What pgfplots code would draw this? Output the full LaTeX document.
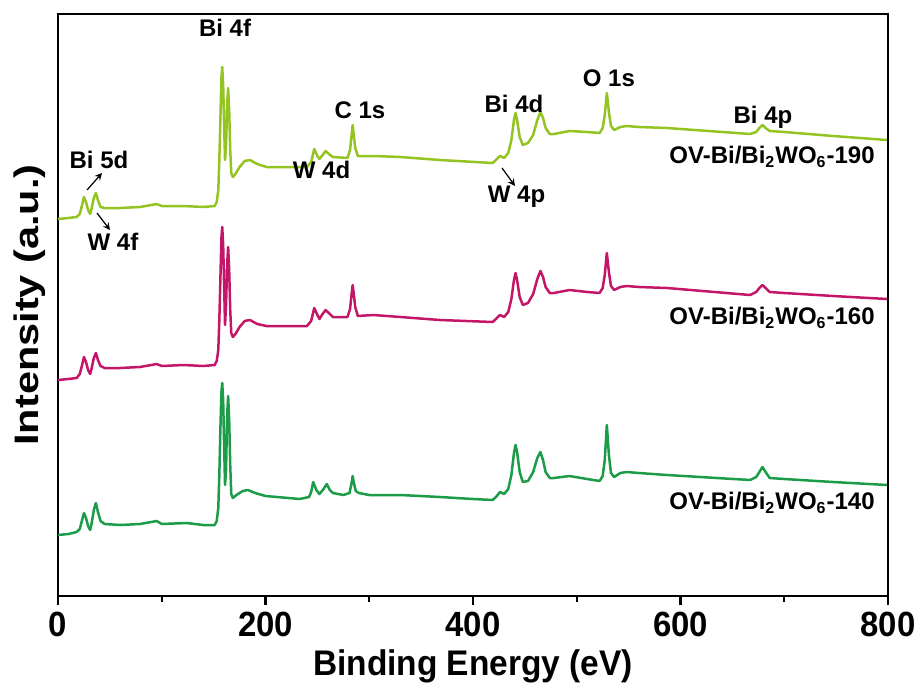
\documentclass[border=0pt]{standalone}
\usepackage{fontspec}
\usepackage{pgfplots}
\pgfplotsset{compat=1.18}
\setmainfont{Liberation Sans}
\newfontfamily\tickfont{Liberation Sans}[FakeStretch=0.94]
\newfontfamily\ylabfont{Liberation Sans}[FakeStretch=1.22]
\definecolor{cLime}{RGB}{148,196,34}
\definecolor{cMag}{RGB}{196,22,104}
\definecolor{cGrn}{RGB}{28,156,72}
\begin{document}
\begin{tikzpicture}
\begin{axis}[
  scale only axis, width=415pt, height=291pt,
  at={(0,0)}, anchor=south west,
  xmin=0, xmax=800, ymin=4, ymax=586,
  xtick={0,200,400,600,800}, minor xtick={100,300,500,700},
  xtick pos=bottom, ytick=\empty,
  tick align=outside,
  major tick length=4.5pt, minor tick length=3pt,
  every tick/.style={black, line width=1.2pt},
  axis line style={line width=1.4pt},
  /pgf/number format/assume math mode=true,
  ticklabel style={font=\tickfont\bfseries\fontsize{17.5}{18}\selectfont},
  xlabel={Binding Energy (eV)},
  xlabel style={font=\tickfont\bfseries\fontsize{17.8}{18}\selectfont, yshift=0.5pt},
  ylabel={Intensity (a.u.)},
  ylabel style={font=\ylabfont\bfseries\fontsize{17}{18}\selectfont, yshift=-2pt},
  clip=false,
  every axis plot/.append style={line width=1.25pt, line join=round},
]
\addplot[cGrn] coordinates {
(0,65)(10,66)(18,68)(21,71)(23,79)(25,87)(27,82)(29,74)(31,70)(32.5,77)(34.5,90)(36.5,97)(38.5,88)(41,79)(45,76)(60,75)(79,76)(90,78)(95,79)(100,76)(124,77)(140,75)(151,75)(153,79)(154.5,92)(155.5,125)(156.5,170)(157.5,208)(158.3,217)(159.2,200)(160,160)(161,115)(162,130)(163,185)(164,204)(165,180)(166,135)(167,106)(168.5,102)(172,105)(178,109)(183,110)(190,107)(200,104)(233,101)(242,103)(244,108)(246,118)(249,110)(252,106)(256,111)(259,116)(262,110)(265,107)(275,105)(281,107)(283,117)(284,124)(285,118)(287,109)(290,107)(300,105)(330,105)(368,103)(400,101)(419,100)(423,104)(426,108)(430,106)(434,111)(437,125)(439.5,147)(441,155)(442.5,148)(445,128)(448,118)(453,119)(458,128)(462,142)(465,148)(467.5,140)(470,128)(474,122)(478,122)(493,124)(510,121)(522,119)(525,124)(527,140)(529,175)(531,145)(533,127)(536,123)(542,127)(548,128)(560,127)(587,125)(667,120)(673,123)(676,128)(679,133)(682,128)(686,122)(700,121)(747,118)(799,115)
};
\addplot[cMag] coordinates {
(0,220)(10,221)(18,222)(21,226)(23,234)(25,243)(27,238)(29,230)(31,226)(32.5,232)(34.5,242)(36.5,247)(38.5,240)(41,234)(45,232)(60,232)(79,233)(90,235)(95,236)(100,234)(121,235)(140,234)(151,235)(153,239)(154.5,250)(155.5,280)(156.5,320)(157.5,362)(158.3,373)(159.2,355)(160,320)(161,275)(162,295)(163,335)(164,353)(165,330)(166,290)(167,267)(168.5,263)(171,266)(175,273)(180,279)(185,280)(192,276)(201,274)(240,274)(244,279)(247,292)(250,285)(252,281)(255,286)(258,290)(261,287)(265,283)(279,283)(281.5,291)(283,306)(284,315)(285,307)(286.5,293)(289,284)(304,285)(330,283)(368,280)(419,278)(423,282)(426,285)(430,283)(434,288)(437,301)(439.5,320)(441,327)(442.5,320)(445,303)(448,295)(453,297)(458,306)(462,321)(465,329)(467.5,323)(470,313)(474,307)(478,307)(493,310)(510,308)(522,307)(525,312)(527,325)(529,347)(531,328)(533,314)(536,310)(542,313)(548,314)(560,313)(587,312)(667,305)(673,308)(676,312)(679,315)(682,312)(686,308)(700,307)(747,304)(799,301)
};
\addplot[cLime] coordinates {
(0,381)(10,382)(18,383)(21,386)(23,394)(25,403)(27,398)(29,390)(31,386)(32.5,392)(34.5,402)(36.5,407)(38.5,400)(41,393)(45,392)(60,392)(79,393)(90,395)(95,396)(100,394)(121,394)(140,393)(151,394)(153,398)(154.5,410)(155.5,440)(156.5,480)(157.5,522)(158.3,533)(159.2,515)(160,480)(161,440)(162,455)(163,495)(164,512)(165,490)(166,450)(167,427)(168.5,423)(171,426)(175,433)(180,439)(185,440)(192,436)(201,433)(240,433)(244,438)(247,451)(250,444)(252,441)(255,445)(258,449)(261,446)(265,443)(279,442)(281.5,450)(283,465)(284,475)(285,466)(286.5,452)(289,444)(304,444)(330,443)(368,440)(419,437)(423,441)(426,444)(430,442)(434,447)(437,460)(439.5,480)(441,487)(442.5,480)(445,463)(448,455)(453,457)(458,465)(462,480)(465,488)(467.5,482)(470,472)(474,466)(478,466)(493,469)(510,468)(522,467)(525,472)(527,485)(529,507)(531,488)(533,474)(536,470)(542,473)(548,474)(560,473)(587,472)(667,466)(673,468)(676,472)(679,475)(682,472)(686,469)(700,468)(747,464)(799,460)
};
\begin{scope}[every node/.style={font=\bfseries\fontsize{12}{13}\selectfont, inner sep=0pt}]
\node at (axis cs:161,572) {Bi 4f};
\node at (axis cs:291,490) {C 1s};
\node at (axis cs:439.5,496) {Bi 4d};
\node at (axis cs:531,522) {O 1s};
\node at (axis cs:679.5,483) {Bi 4p};
\node at (axis cs:254,430) {W 4d};
\node at (axis cs:442,403) {W 4p};
\node at (axis cs:39.5,440) {Bi 5d};
\node at (axis cs:53,358) {W 4f};
\node[anchor=east] at (axis cs:787.5,443) {OV-Bi/Bi\textsubscript{2}WO\textsubscript{6}-190};
\node[anchor=east] at (axis cs:787.5,282) {OV-Bi/Bi\textsubscript{2}WO\textsubscript{6}-160};
\node[anchor=east] at (axis cs:787.5,97) {OV-Bi/Bi\textsubscript{2}WO\textsubscript{6}-140};
\end{scope}
\draw[->, >=stealth, line width=0.6pt] (axis cs:28,410) -- (axis cs:42.4,427);
\draw[->, >=stealth, line width=0.6pt] (axis cs:37.6,387) -- (axis cs:50.1,370);
\draw[->, >=stealth, line width=0.6pt] (axis cs:428,432) -- (axis cs:440.5,414);
\end{axis}
\pgfresetboundingbox
\useasboundingbox (-29pt,-45.5pt) rectangle (431pt,298pt);
\end{tikzpicture}
\end{document}
